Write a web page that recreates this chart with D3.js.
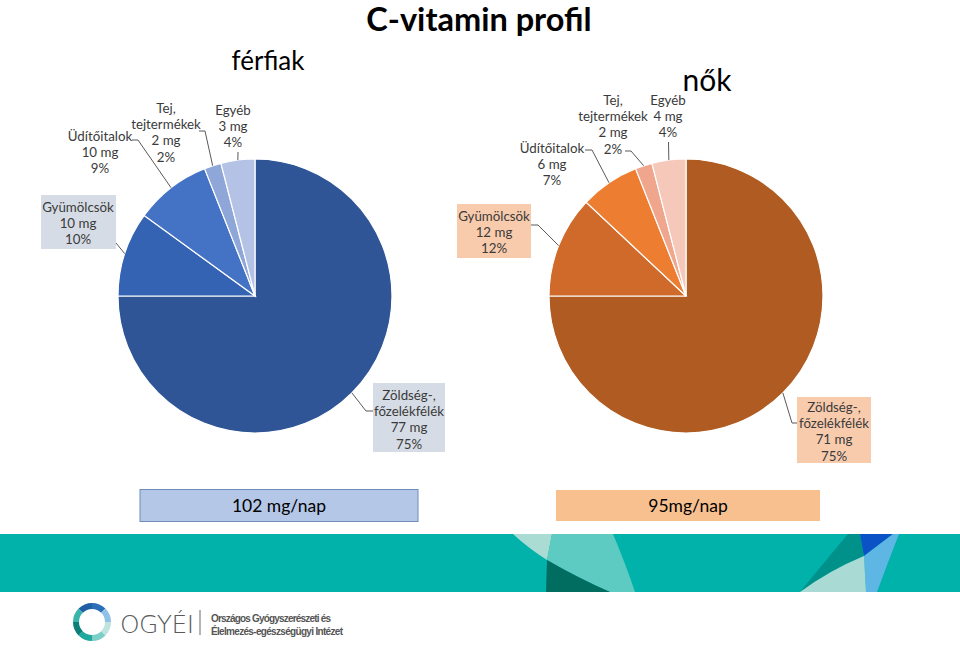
<!DOCTYPE html>
<html><head><meta charset="utf-8">
<script src="https://cdn.jsdelivr.net/npm/d3@7"></script>
<style>body{margin:0;background:#fff}svg{display:block}</style>
</head><body>
<svg id="c" width="960" height="653"></svg>
<script>
// ---- data ----
const categories = ["Zöldség-, főzelékfélék", "Gyümölcsök", "Üdítőitalok", "Tej, tejtermékek", "Egyéb"];
const labelLines = [["Zöldség-,", "főzelékfélék"], ["Gyümölcsök"], ["Üdítőitalok"], ["Tej,", "tejtermékek"], ["Egyéb"]];
const menMg = [77, 10, 10, 2, 3];
const menPct = [75, 10, 9, 2, 4];
const womenMg = [71, 12, 6, 2, 4];
const womenPct = [75, 12, 7, 2, 4];
const menTotal = "102 mg/nap";
const womenTotal = "95mg/nap";
const titleText = "C-vitamin profil";
const menTitle = "férfiak";
const womenTitle = "nők";

// ---- styles / layout ----
const menColors = ["#2F5597", "#3563B3", "#4472C4", "#8FA7D8", "#B4C3E5"];
const womenColors = ["#AF5B22", "#CF6A2A", "#ED7D31", "#F0A68C", "#F5C8BA"];
const svg = d3.select("#c");
const FONT = "Lato, 'Open Sans', sans-serif";
const R = 137;

const menLayout = [
  {cx: 409, y0: 395, box: [373, 383, 72, 69], elbow: [[366, 411], [373, 411]]},
  {cx: 78, y0: 207, box: [41, 195, 75, 54], elbow: [[116, 243]]},
  {cx: 100, y0: 136, elbow: [[138, 140], [132, 140]]},
  {cx: 166, y0: 108, elbow: [[205, 131], [199, 131]]},
  {cx: 233, y0: 110, elbow: [[238, 152]]}
];
const womenLayout = [
  {cx: 834, y0: 407, box: [797, 397, 74, 66], elbow: [[792, 423], [797, 423]]},
  {cx: 494, y0: 216, box: [457, 204, 74, 54], elbow: [[538, 225], [531, 225]]},
  {cx: 552, y0: 148, elbow: [[592, 150], [585, 150]]},
  {cx: 613, y0: 100, elbow: [[631, 151], [625, 151]]},
  {cx: 668, y0: 100, elbow: [[668.5, 142]]}
];

function drawPie(cx, cy, pct, mg, colors, layout, boxFill) {
  const pie = d3.pie().sort(null).value(d => d)(pct);
  const arc = d3.arc().innerRadius(0).outerRadius(R);
  const g = svg.append("g").attr("transform", `translate(${cx},${cy})`);
  g.selectAll("path").data(pie).join("path")
    .attr("d", arc)
    .attr("fill", (d, i) => colors[i])
    .attr("stroke", "#ffffff").attr("stroke-width", 1.2);

  pie.forEach((d, i) => {
    const L = layout[i];
    const a = (d.startAngle + d.endAngle) / 2;
    const p = [cx + R * Math.sin(a), cy - R * Math.cos(a)];
    const pts = [p].concat(L.elbow);
    svg.append("path").attr("d", d3.line()(pts))
      .attr("fill", "none").attr("stroke", "#595959").attr("stroke-width", 1);
    if (L.box) {
      svg.append("rect").attr("x", L.box[0]).attr("y", L.box[1])
        .attr("width", L.box[2]).attr("height", L.box[3]).attr("fill", boxFill);
    }
    const lines = labelLines[i].concat([mg[i] + " mg", pct[i] + "%"]);
    const t = svg.append("text").attr("font-family", FONT).attr("font-size", 13.3)
      .attr("fill", "#3A3A3A").attr("text-anchor", "middle");
    lines.forEach((s, k) => {
      t.append("tspan").attr("x", L.cx).attr("y", L.y0 + k * 16.3).attr("dy", "0.35em").text(s);
    });
  });
}

drawPie(255, 296, menPct, menMg, menColors, menLayout, "#D6DCE5");
drawPie(686, 296, womenPct, womenMg, womenColors, womenLayout, "#F8CBAD");

// titles
svg.append("text").attr("x", 479).attr("y", 31).attr("text-anchor", "middle")
  .attr("font-family", FONT).attr("font-weight", "bold").attr("font-size", 32.5)
  .attr("fill", "#000").text(titleText);
svg.append("text").attr("x", 268).attr("y", 70).attr("text-anchor", "middle")
  .attr("font-family", FONT).attr("font-size", 26).attr("fill", "#000").text(menTitle);
svg.append("text").attr("x", 707).attr("y", 91).attr("text-anchor", "middle")
  .attr("font-family", FONT).attr("font-size", 30).attr("fill", "#000").text(womenTitle);

// totals
svg.append("rect").attr("x", 140).attr("y", 489.5).attr("width", 278).attr("height", 32)
  .attr("fill", "#B4C7E7").attr("stroke", "#6F8CBA").attr("stroke-width", 1);
svg.append("text").attr("x", 279).attr("y", 506).attr("dy", "0.35em").attr("text-anchor", "middle")
  .attr("font-family", FONT).attr("font-size", 17.5).attr("fill", "#000").text(menTotal);
svg.append("rect").attr("x", 556).attr("y", 490).attr("width", 264).attr("height", 31)
  .attr("fill", "#F8C08F");
svg.append("text").attr("x", 688).attr("y", 506).attr("dy", "0.35em").attr("text-anchor", "middle")
  .attr("font-family", FONT).attr("font-size", 17.5).attr("fill", "#000").text(womenTotal);

// footer band
const band = svg.append("g");
band.append("rect").attr("x", 0).attr("y", 534).attr("width", 960).attr("height", 58).attr("fill", "#00B2A9");
band.append("path").attr("d", "M513,534 L552,534 L547,560 Q528,548 513,534 Z").attr("fill", "#AADCD3");
band.append("path").attr("d", "M552,534 L613,534 Q626,565 635,592 L610,592 Q578,578 547,560 Z").attr("fill", "#5DCBC1");
band.append("path").attr("d", "M547,560 Q578,578 610,592 L546,592 Z").attr("fill", "#006D60");
band.append("path").attr("d", "M848,534 L860,534 L864,556 Q830,570 800,592 Q826,560 848,534 Z").attr("fill", "#00918A");
band.append("path").attr("d", "M860,534 L893,534 L864,556 Z").attr("fill", "#0B52C6");
band.append("path").attr("d", "M893,534 L899,534 Q888,562 877,592 L866,592 L864,556 Z").attr("fill", "#5DB6E3");
band.append("path").attr("d", "M800,592 Q830,570 864,556 L866,592 Z").attr("fill", "#A9DBD4");

// logo
const lg = svg.append("g").attr("transform", "translate(92,622)");
const ringArc = d3.arc().innerRadius(13).outerRadius(19);
const ringCols = ["#2C6FB8", "#8FC2E6", "#BFE3DE", "#7CCFC6", "#1FA89E", "#0B7F78", "#3AB5A9", "#1E5FA6"];
const ringPie = d3.pie().sort(null).value(1)(ringCols);
lg.selectAll("path").data(ringPie).join("path").attr("d", ringArc).attr("fill", (d, i) => ringCols[i]);
svg.append("text").attr("x", 120).attr("y", 633).attr("font-family", "'DejaVu Sans', sans-serif")
  .attr("font-weight", 200).attr("font-size", 25).attr("fill", "#5A5A5A").attr("textLength", 74).text("OGYÉI");
svg.append("line").attr("x1", 200).attr("x2", 200).attr("y1", 610).attr("y2", 635).attr("stroke", "#6A6A6A").attr("stroke-width", 1);
svg.append("text").attr("x", 211).attr("y", 622).attr("font-family", "'Liberation Sans Narrow', 'Liberation Sans', sans-serif")
  .attr("font-weight", "bold").attr("font-size", 10).attr("fill", "#555").attr("textLength", 120).text("Országos Gyógyszerészeti és");
svg.append("text").attr("x", 211).attr("y", 635).attr("font-family", "'Liberation Sans Narrow', 'Liberation Sans', sans-serif")
  .attr("font-weight", "bold").attr("font-size", 10).attr("fill", "#555").attr("textLength", 132).text("Élelmezés-egészségügyi Intézet");
</script>
</body></html>
